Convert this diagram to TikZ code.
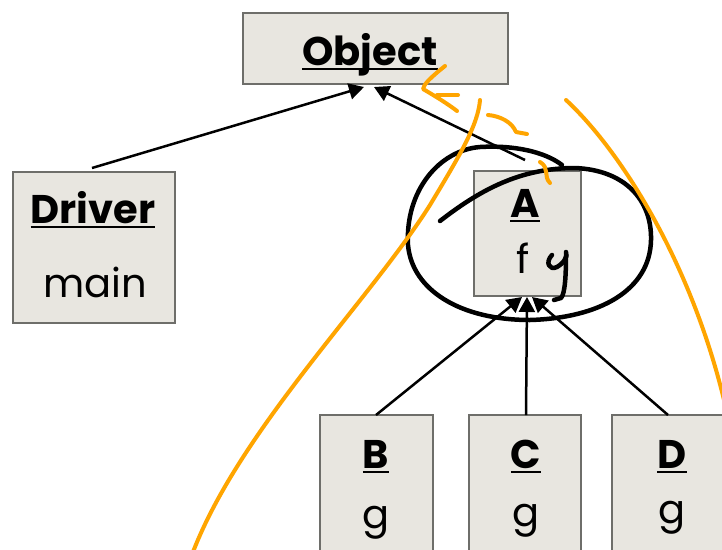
\documentclass[tikz,border=0pt]{standalone}
\usepackage{fontspec}
\setmainfont{Poppins}
\usetikzlibrary{arrows.meta,calc}
\definecolor{boxfill}{HTML}{E8E6E0}
\definecolor{boxgray}{HTML}{6E6E6A}
\definecolor{hlorange}{HTML}{FFA500}
\newcommand{\myul}[1]{\setbox0\hbox{#1}\rlap{\rule[-4.5pt]{\wd0}{1.7pt}}\box0}
\begin{document}
\begin{tikzpicture}[x=1pt,y=-1pt,
  cls/.style={draw=boxgray, fill=boxfill, line width=2.4pt, inner sep=0pt},
  ttl/.style={anchor=base, inner sep=0pt, font=\fontsize{40}{44}\selectfont\bfseries},
  mth/.style={anchor=base, inner sep=0pt, font=\fontsize{40}{44}\selectfont},
  inh/.style={line width=2.5pt, -{Triangle[length=15pt,width=16pt]}},
  ink/.style={line width=4.5pt, line cap=round, line join=round},
  hl/.style={draw=hlorange, line width=4pt, line cap=round, line join=round}]
\useasboundingbox (0,0) rectangle (722,549);
\clip (0,0) rectangle (722,549);
\fill[white] (0,0) rectangle (722,549);

% class boxes
\node[cls, minimum width=265pt, minimum height=71pt] (obj) at (375.5,48.5) {};
\node[cls, minimum width=162pt, minimum height=151pt] (drv) at (94,247.5) {};
\node[cls, minimum width=107pt, minimum height=125pt] (a) at (527.5,233.5) {};
\node[cls, minimum width=113pt, minimum height=155pt] (b) at (376.5,492.5) {};
\node[cls, minimum width=112pt, minimum height=155pt] (c) at (525,492.5) {};
\node[cls, minimum width=128pt, minimum height=155pt] (d) at (676,492.5) {};

% texts
\node[ttl] (objt) at (370,65) {\myul{Object}};
\node[ttl] (drvt) at (93,223) {\myul{Driver}};
\node[mth] (drvm) at (95,297) {main};
\node[ttl] (at) at (525,217) {\myul{A}};
\node[mth] (af) at (523,273) {f};
\node[ttl] (bt) at (376,468) {\myul{B}};
\node[mth] (bg) at (376,528) {g};
\node[ttl] (ct) at (526,468) {\myul{C}};
\node[mth] (cg) at (526,526) {g};
\node[ttl] (dt) at (672,468) {\myul{D}};
\node[mth] (dg) at (672,523) {g};

% connector end points
\coordinate (o1) at (364,87);
\coordinate (o2) at (374,87);
\coordinate (drvtop) at (92,168);
\coordinate (atop) at (525,160);
\coordinate (a1) at (522,297);
\coordinate (a2) at (527,297);
\coordinate (a3) at (532,297);
\coordinate (btop) at (376,415);
\coordinate (ctop) at (526,415);
\coordinate (dtop) at (668,415);

\draw[inh] (drvtop) -- (o1);
\draw[inh] (atop) -- (o2);
\draw[inh] (btop) -- (a1);
\draw[inh] (ctop) -- (a2);
\draw[inh] (dtop) -- (a3);

% black hand-drawn ink
\draw[ink] (440,221) .. controls (480,190) and (520,168) .. (575,168)
  .. controls (625,170) and (652,200) .. (651,240)
  .. controls (650,290) and (600,318) .. (530,320)
  .. controls (460,320) and (412,290) .. (408,245)
  .. controls (405,190) and (440,150) .. (480,147)
  .. controls (515,145) and (545,152) .. (562,165);
\draw[ink] (552,255) .. controls (545,262) and (549,271) .. (557,267) .. controls (564,263) and (568,256) .. (566,252);
\draw[ink] (566,255) .. controls (566,275) and (565,294) .. (561,298) -- (554,300);

% orange highlights
\draw[hl] (193,552) .. controls (240,430) and (370,300) .. (430,205) .. controls (460,155) and (478,125) .. (480,100);
\draw[hl] (566,100) .. controls (620,150) and (690,260) .. (724,400);
\draw[hl] (445,66) .. controls (430,78) and (424,84) .. (423,89) .. controls (435,96) and (448,104) .. (457,111);
\draw[hl] (437,95) -- (458,95);
\draw[hl] (488,115) .. controls (500,116) and (512,122) .. (516,132) -- (527,134);
\draw[hl] (540,162) .. controls (550,168) and (543,176) .. (550,183);
\end{tikzpicture}
\end{document}
